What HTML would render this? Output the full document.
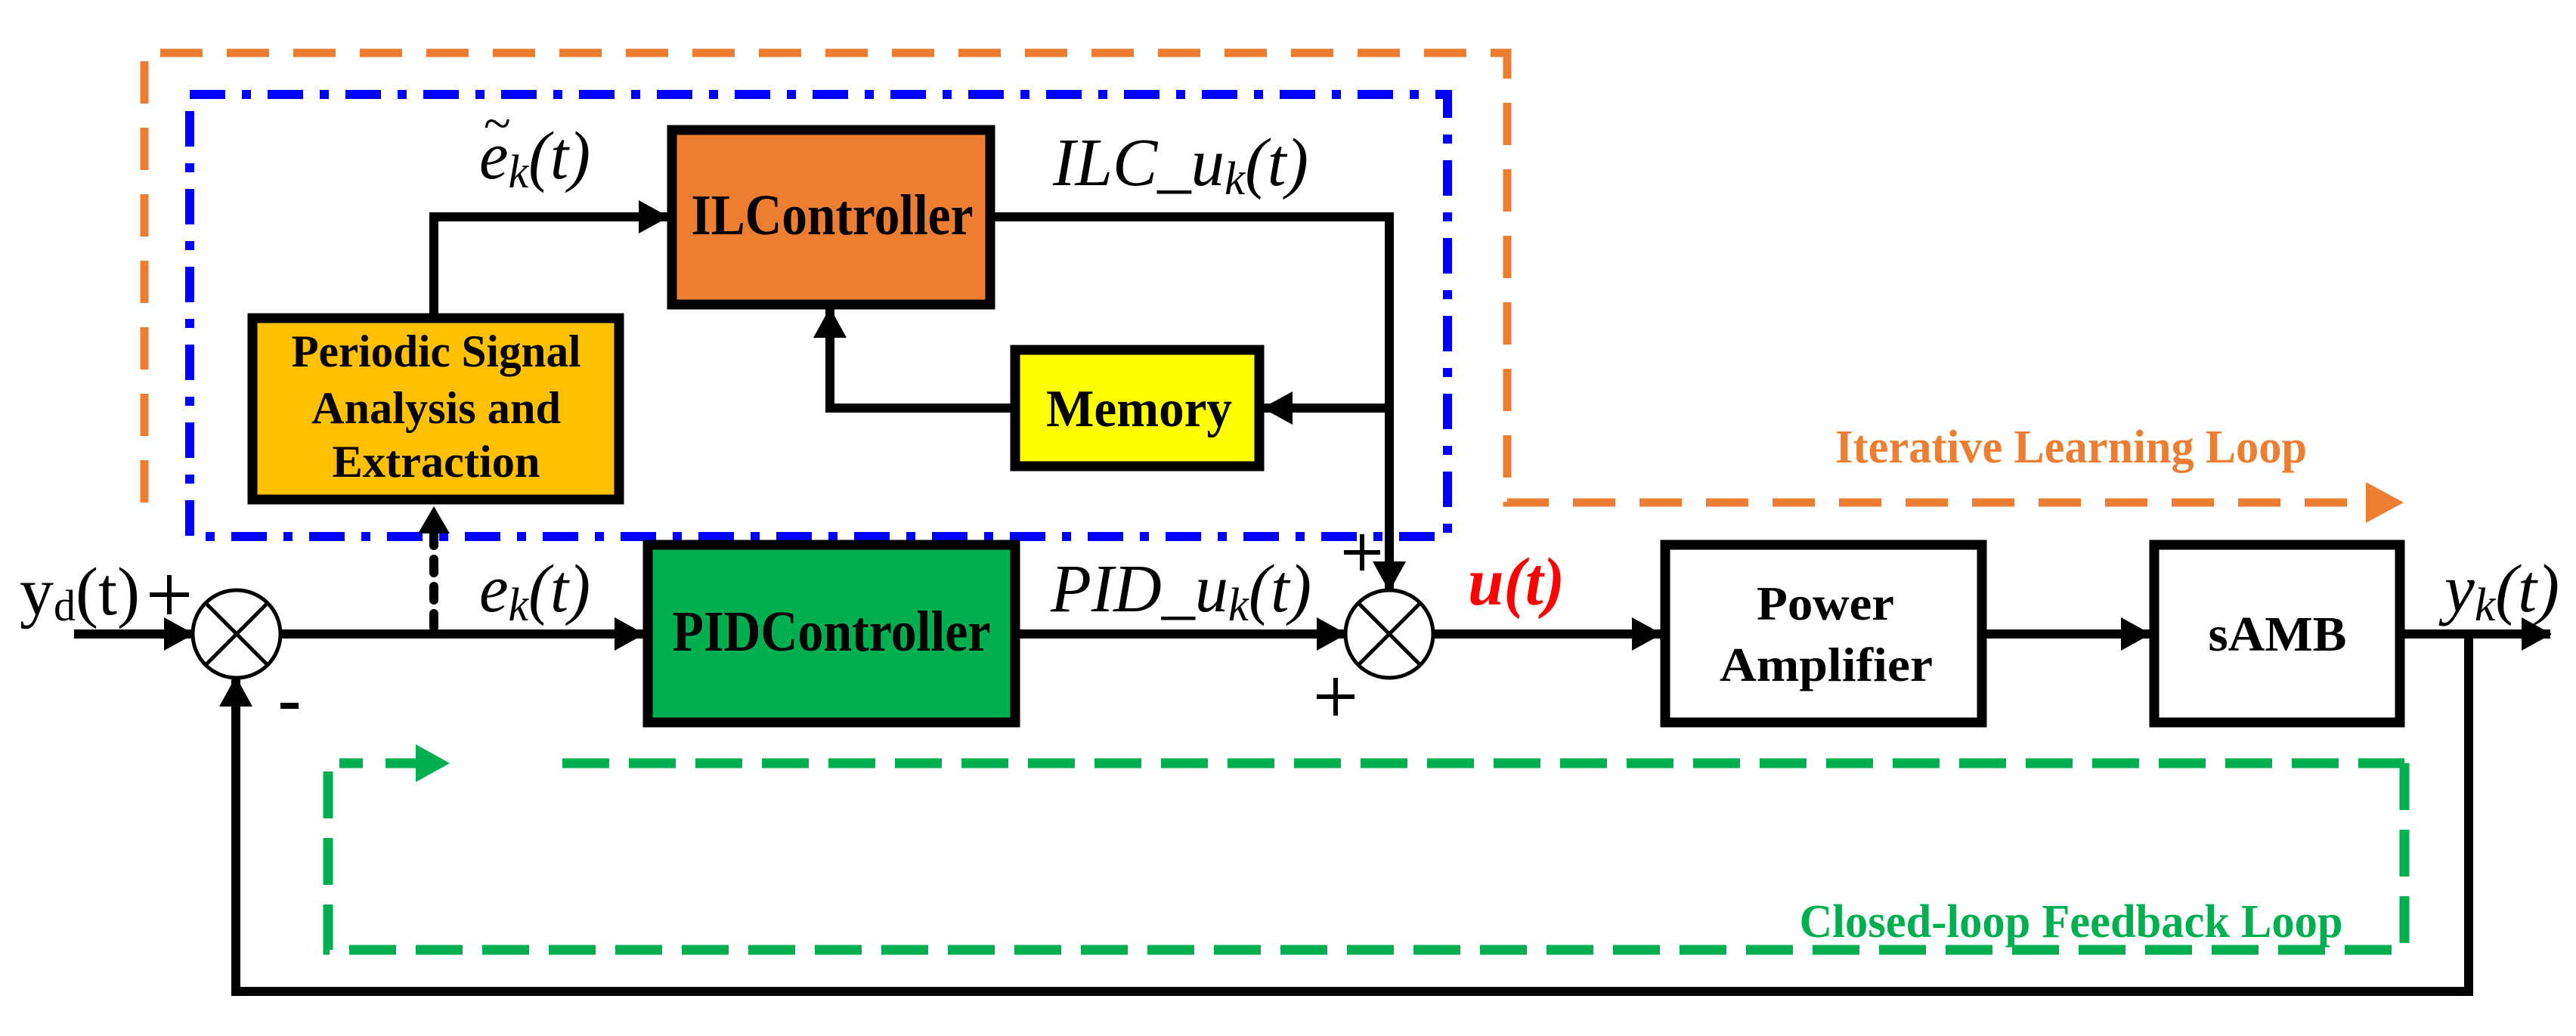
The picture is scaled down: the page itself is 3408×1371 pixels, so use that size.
<!DOCTYPE html>
<html><head><meta charset="utf-8"><style>html,body{margin:0;padding:0;background:#fff}svg{display:block}</style></head>
<body>
<svg width="3408" height="1371" viewBox="0 0 3408 1371" xmlns="http://www.w3.org/2000/svg">
<defs>
<marker id="ah" markerUnits="userSpaceOnUse" markerWidth="40" markerHeight="44" refX="38" refY="22" orient="auto"><path d="M0,0 L40,22 L0,44 z" fill="#000"/></marker>
</defs>
<!-- orange loop -->
<path d="M191,665 L191,70 L1994,70 L1994,665 L3140,665" fill="none" stroke="#ED7D31" stroke-width="11" stroke-dasharray="56,32"/>
<path d="M3130,638 L3180,665 L3130,692 z" fill="#ED7D31"/>
<!-- blue dash-dot -->
<rect x="251" y="125" width="1664" height="585" fill="none" stroke="#0000FF" stroke-width="12" stroke-dasharray="47,22,12,22"/>
<!-- green loop -->
<path d="M3181,1010 L3181,1257 L434,1257 L434,1010 L480,1010" fill="none" stroke="#00B050" stroke-width="13" stroke-dasharray="62,26"/>
<path d="M744,1010 L3181,1010" fill="none" stroke="#00B050" stroke-width="13" stroke-dasharray="62,26"/>
<path d="M510,1010 L560,1010" stroke="#00B050" stroke-width="13"/>
<path d="M550,985 L595,1010 L550,1035 z" fill="#00B050"/>
<!-- boxes -->
<rect x="889" y="172" width="421" height="231" fill="#ED7D31" stroke="#000" stroke-width="13"/>
<rect x="334" y="421" width="485" height="240" fill="#FFC000" stroke="#000" stroke-width="13"/>
<rect x="1343" y="463" width="323" height="154" fill="#FFFF00" stroke="#000" stroke-width="13"/>
<rect x="857" y="721" width="486" height="235" fill="#00B050" stroke="#000" stroke-width="13"/>
<rect x="2203" y="721" width="419" height="235" fill="#fff" stroke="#000" stroke-width="13"/>
<rect x="2850" y="721" width="325" height="235" fill="#fff" stroke="#000" stroke-width="13"/>
<!-- connectors -->
<g stroke="#000" stroke-width="12" fill="none">
<path d="M98,839 L255,839" marker-end="url(#ah)"/>
<path d="M371,839 L851,839" marker-end="url(#ah)"/>
<path d="M1349,839 L1780,839" marker-end="url(#ah)"/>
<path d="M1896,839 L2197,839" marker-end="url(#ah)"/>
<path d="M2628,839 L2844,839" marker-end="url(#ah)"/>
<path d="M3181,839 L3374,839" marker-end="url(#ah)"/>
<path d="M3266,839 L3266,1312 L312,1312 L312,897" marker-end="url(#ah)"/>
<path d="M574,415 L574,287 L883,287" marker-end="url(#ah)"/>
<path d="M1316,287 L1838,287 L1838,781" marker-end="url(#ah)"/>
<path d="M1838,540 L1672,540" marker-end="url(#ah)"/>
<path d="M1337,540 L1098,540 L1098,409" marker-end="url(#ah)"/>
</g>
<path d="M574,830 L574,705" stroke="#000" stroke-width="12" stroke-dasharray="18,18" stroke-linecap="round" fill="none"/>
<path d="M553,706 L574,670 L595,706 z" fill="#000"/>
<!-- summing junctions -->
<g stroke="#000" stroke-width="5" fill="#fff">
<circle cx="313" cy="839" r="58"/>
<circle cx="1838" cy="839" r="58"/>
</g>
<g stroke="#000" stroke-width="5">
<path d="M272,798 L354,880 M354,798 L272,880"/>
<path d="M1797,798 L1879,880 M1879,798 L1797,880"/>
</g>
<!-- box texts -->
<g font-family="Liberation Serif, serif" font-weight="bold" fill="#000" text-anchor="middle">
<text x="1101" y="310" font-size="76" textLength="373" lengthAdjust="spacingAndGlyphs">ILController</text>
<text x="577" y="485" font-size="60" textLength="383" lengthAdjust="spacingAndGlyphs">Periodic Signal</text>
<text x="577" y="560" font-size="60" textLength="330" lengthAdjust="spacingAndGlyphs">Analysis and</text>
<text x="577" y="631" font-size="60" textLength="275" lengthAdjust="spacingAndGlyphs">Extraction</text>
<text x="1507" y="564" font-size="70" textLength="246" lengthAdjust="spacingAndGlyphs">Memory</text>
<text x="1100" y="861" font-size="76" textLength="421" lengthAdjust="spacingAndGlyphs">PIDController</text>
<text x="2415" y="820" font-size="64" textLength="182" lengthAdjust="spacingAndGlyphs">Power</text>
<text x="2416" y="901" font-size="64" textLength="282" lengthAdjust="spacingAndGlyphs">Amplifier</text>
<text x="3013" y="861" font-size="66" textLength="183" lengthAdjust="spacingAndGlyphs">sAMB</text>
<text x="2740" y="612" font-size="62" fill="#ED7D31" textLength="624" lengthAdjust="spacingAndGlyphs">Iterative Learning Loop</text>
<text x="2740" y="1240" font-size="62" fill="#00B050" textLength="719" lengthAdjust="spacingAndGlyphs">Closed-loop Feedback Loop</text>
</g>
<!-- math labels -->
<g font-family="Liberation Serif, serif" font-style="italic" fill="#000" font-size="90">
<text x="634" y="236" textLength="147" lengthAdjust="spacingAndGlyphs">e<tspan font-size="62" dy="12">k</tspan><tspan dy="-12">(t)</tspan></text>
<text x="640" y="185" font-size="66" font-style="normal">~</text>
<text x="1393" y="245" textLength="338" lengthAdjust="spacingAndGlyphs">ILC_u<tspan font-size="62" dy="12">k</tspan><tspan dy="-12">(t)</tspan></text>
<text x="634" y="809" textLength="147" lengthAdjust="spacingAndGlyphs">e<tspan font-size="62" dy="12">k</tspan><tspan dy="-12">(t)</tspan></text>
<text x="1390" y="809" textLength="345" lengthAdjust="spacingAndGlyphs">PID_u<tspan font-size="62" dy="12">k</tspan><tspan dy="-12">(t)</tspan></text>
<text x="3234" y="809" textLength="152" lengthAdjust="spacingAndGlyphs">y<tspan font-size="62" dy="12">k</tspan><tspan dy="-12">(t)</tspan></text>
<text x="1942" y="800" fill="#FF0000" font-weight="bold" textLength="128" lengthAdjust="spacingAndGlyphs">u(t)</text>
</g>
<g font-family="Liberation Serif, serif" fill="#000" font-size="90">
<text x="26" y="813" textLength="159" lengthAdjust="spacingAndGlyphs">y<tspan font-size="58" dy="8">d</tspan><tspan dy="-8">(t)</tspan></text>
</g>
<g stroke="#000" stroke-width="6">
<path d="M198,787 L250,787 M224,761 L224,813"/>
<path d="M1778,731 L1826,731 M1802,707 L1802,755"/>
<path d="M1742,922 L1792,922 M1767,897 L1767,947"/>
</g>
<rect x="371" y="930" width="24" height="8" fill="#000"/>
</svg>
</body></html>
